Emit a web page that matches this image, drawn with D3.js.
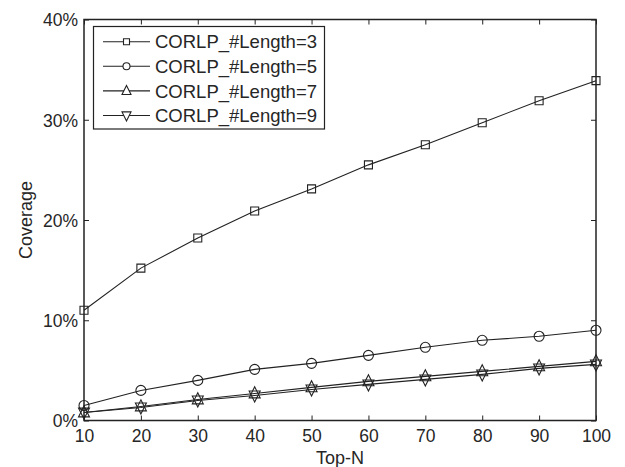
<!DOCTYPE html>
<html>
<head>
<meta charset="utf-8">
<script src="https://cdn.jsdelivr.net/npm/d3@7"></script>
<style>
body{margin:0;background:#fff;}
text{font-family:"Liberation Sans",Arial,sans-serif;fill:#262626;}
</style>
</head>
<body>
<svg></svg>
<script>
var width=625;
var height=467;
var plotLeft=84, plotRight=596, plotTop=19.5, plotBottom=420.5;

var topN=[10,20,30,40,50,60,70,80,90,100];
var len3=[11.0,15.2,18.2,20.9,23.1,25.5,27.5,29.7,31.9,33.9];
var len5=[1.5,3.0,4.0,5.1,5.7,6.5,7.3,8.0,8.4,9.0];
var len7=[0.8,1.4,2.1,2.7,3.3,3.9,4.4,4.9,5.4,5.9];
var len9=[0.8,1.3,2.0,2.5,3.1,3.6,4.1,4.6,5.2,5.6];
var names=["CORLP_#Length=3","CORLP_#Length=5","CORLP_#Length=7","CORLP_#Length=9"];
var markers=["square","circle","up","down"];
var yTicks=[0,10,20,30,40];

var svg=d3.select("svg")
	.attr("width",width)
	.attr("height",height)

var scalex=d3.scaleLinear()
		.domain([10,100])
		.range([plotLeft,plotRight])

var scaley=d3.scaleLinear()
		.domain([0,40])
		.range([plotBottom,plotTop])

var ink="#222";

// box
svg.append("rect")
	.attr("x",plotLeft).attr("y",plotTop)
	.attr("width",plotRight-plotLeft).attr("height",plotBottom-plotTop)
	.attr("fill","none").attr("stroke",ink).attr("stroke-width",1.5)

// ticks, inward on all sides
var xaxis=d3.axisBottom(scalex).tickValues(topN).tickSize(-5).tickPadding(9).tickFormat(d3.format("d"));
var yaxis=d3.axisLeft(scaley).tickValues(yTicks).tickSize(-5).tickPadding(6).tickFormat(d=>d+"%");

var gx=svg.append("g").attr("transform","translate(0,"+plotBottom+")").call(xaxis);
var gy=svg.append("g").attr("transform","translate("+plotLeft+",0)").call(yaxis);
svg.append("g").attr("transform","translate(0,"+plotTop+")")
	.call(d3.axisTop(scalex).tickValues(topN).tickSize(-5).tickFormat(""));
svg.append("g").attr("transform","translate("+plotRight+",0)")
	.call(d3.axisRight(scaley).tickValues(yTicks).tickSize(-5).tickFormat(""));

svg.selectAll(".domain").remove();
svg.selectAll(".tick line").attr("stroke",ink).attr("stroke-width",1);
svg.selectAll(".tick text").style("font-size","17.5px").style("font-family","Liberation Sans, Arial, sans-serif").attr("fill","#262626");
gy.selectAll(".tick text").attr("dy","0.36em");

svg.append("text")
	.attr("x",(plotLeft+plotRight)/2)
	.attr("y",464)
	.style("text-anchor","middle")
	.style("font-size","18px")
	.text("Top-N")

svg.append("text")
	.attr("transform","translate(32,"+((plotTop+plotBottom)/2)+") rotate(-90)")
	.style("text-anchor","middle")
	.style("font-size","18px")
	.text("Coverage")

function markerPath(type,s)
{
	if(type=="square") return "M"+(-s/2)+","+(-s/2)+"h"+s+"v"+s+"h"+(-s)+"Z";
	if(type=="circle") return d3.symbol(d3.symbolCircle,Math.PI*s*s/4)();
	var h=s, w=s;
	if(type=="up") return "M0,"+(-h*0.6)+"L"+(w/2)+","+(h*0.4)+"L"+(-w/2)+","+(h*0.4)+"Z";
	return "M0,"+(h*0.6)+"L"+(w/2)+","+(-h*0.4)+"L"+(-w/2)+","+(-h*0.4)+"Z";
}

var line=d3.line()
	.x((d,i)=>scalex(topN[i]))
	.y(d=>scaley(d))

var sizes={square:8,circle:10,up:11,down:11};

function drawseries(arr,k)
{
	svg.append("path")
		.datum(arr)
		.attr("d",line)
		.attr("fill","none")
		.attr("stroke",ink)
		.attr("stroke-width",1.1)

	svg.selectAll(".m"+k)
		.data(arr)
		.enter()
		.append("path")
		.classed("m"+k,true)
		.attr("transform",(d,i)=>"translate("+scalex(topN[i])+","+scaley(d)+")")
		.attr("d",markerPath(markers[k],sizes[markers[k]]))
		.attr("fill","none")
		.attr("stroke",ink)
		.attr("stroke-width",1.1)
}

[len3,len5,len7,len9].forEach((arr,k)=>drawseries(arr,k));

// legend
var lg=svg.append("g");
lg.append("rect")
	.attr("x",93.5).attr("y",26.5)
	.attr("width",231).attr("height",102.5)
	.attr("fill","#fff").attr("stroke",ink).attr("stroke-width",1.2)

var legendSizes={square:6,circle:7,up:9,down:9};
names.forEach((n,k)=>{
	var y=41.7+k*24.6;
	lg.append("line")
		.attr("x1",103).attr("x2",150)
		.attr("y1",y).attr("y2",y)
		.attr("stroke",ink).attr("stroke-width",1.1)
	lg.append("path")
		.attr("transform","translate(126.5,"+y+")")
		.attr("d",markerPath(markers[k],legendSizes[markers[k]]))
		.attr("fill","#fff").attr("stroke",ink).attr("stroke-width",1.1)
	lg.append("text")
		.attr("x",155).attr("y",y)
		.attr("dy","0.36em")
		.style("font-size","18.5px")
		.text(n)
});
</script>
</body>
</html>
